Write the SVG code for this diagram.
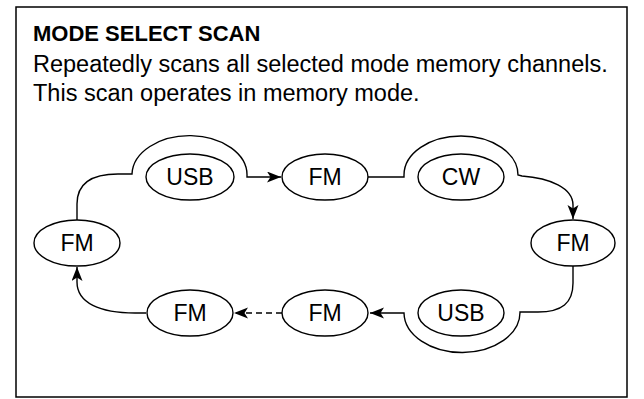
<svg xmlns="http://www.w3.org/2000/svg" width="644" height="399" viewBox="0 0 644 399">
<style>
.frame{fill:#fff;stroke:#000;stroke-width:1.5}
.node ellipse{fill:#fff;stroke:#000;stroke-width:1.4}
.node text{font-family:"Liberation Sans",Arial,sans-serif;font-size:23px;text-anchor:middle;fill:#000}
.conn path{fill:none;stroke:#000;stroke-width:1.4}
.dash{stroke-dasharray:6 4}
.title{font-family:"Liberation Sans",Arial,sans-serif;font-size:22px;font-weight:bold;fill:#000}
.body{font-family:"Liberation Sans",Arial,sans-serif;font-size:23.5px;fill:#000}
</style>
<defs>
<marker id="arr" markerUnits="userSpaceOnUse" markerWidth="15" markerHeight="12" refX="14" refY="5.5" orient="auto">
<path d="M0,0 L14,5.5 L0,11 L3.5,5.5 Z" fill="#000"/>
</marker>
</defs>
<rect class="frame" x="16" y="7" width="611" height="390"/>
<text class="title" x="33" y="41">MODE SELECT SCAN</text>
<text class="body" x="33" y="72">Repeatedly scans all selected mode memory channels.</text>
<text class="body" x="33" y="101">This scan operates in memory mode.</text>
<g class="conn">
<path d="M77,220 V204 C77,184 90,174 118,174 L132,174 A57,39 0 0 1 247,176 L247,177 L281,177" marker-end="url(#arr)"/>
<path d="M368,177 L404,177 L404,175 A57,39 0 0 1 518,175 L522,176 C550,178 573,188 573,205 L573,219" marker-end="url(#arr)"/>
<path d="M573,266 V283 C573,303 562,312 538,312 L520,312 A58,40 0 0 1 404,313 L370,313" marker-end="url(#arr)"/>
<path class="dash" d="M282,313 L234,313" marker-end="url(#arr)"/>
<path d="M146,313 L135,313 C100,313 77,303 77,282 L77,267" marker-end="url(#arr)"/>
</g>
<g id="n-usb-top" class="node"><ellipse cx="190" cy="177" rx="44" ry="23"/><text x="190" y="185">USB</text></g>
<g id="n-fm-top" class="node"><ellipse cx="325" cy="177" rx="43" ry="23"/><text x="325" y="185">FM</text></g>
<g id="n-cw" class="node"><ellipse cx="461" cy="177" rx="43" ry="23"/><text x="461" y="185">CW</text></g>
<g id="n-fm-right" class="node"><ellipse cx="573" cy="243" rx="42" ry="23"/><text x="573" y="251">FM</text></g>
<g id="n-fm-left" class="node"><ellipse cx="77" cy="243" rx="43" ry="23"/><text x="77" y="251">FM</text></g>
<g id="n-fm-bl" class="node"><ellipse cx="190" cy="313" rx="43" ry="23"/><text x="190" y="321">FM</text></g>
<g id="n-fm-bm" class="node"><ellipse cx="325" cy="313" rx="43" ry="23"/><text x="325" y="321">FM</text></g>
<g id="n-usb-bottom" class="node"><ellipse cx="461" cy="313" rx="43" ry="23"/><text x="461" y="321">USB</text></g>
</svg>
